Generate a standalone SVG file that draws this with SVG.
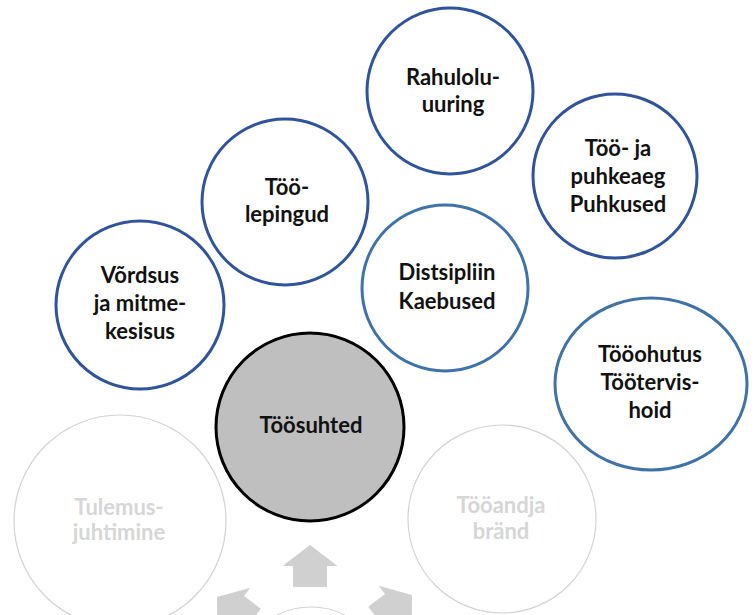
<svg xmlns="http://www.w3.org/2000/svg" width="755" height="615" viewBox="0 0 755 615">
  <style>
    .lbl { font-family: Lato, "Liberation Sans", sans-serif; font-weight: bold; font-size: 22px; text-anchor: middle; fill: #111111; }
    .faint-lbl { fill: #d6d6d6; }
    .blue { fill: #ffffff; stroke: #2f549c; stroke-width: 3; }
    .blue-light { fill: #ffffff; stroke: #3f72a8; stroke-width: 3; }
    .faint { fill: #ffffff; stroke: #d3d3d3; stroke-width: 1.2; }
    .arrow { fill: #d0d0d0; }
  </style>
  <defs>
    <!-- block arrow with its tip at the origin, pointing up -->
    <polygon id="blockArrow" points="0,0 27.5,21 17,21 17,42 -17,42 -17,21 -27.5,21"/>
  </defs>

  <rect width="755" height="615" fill="#ffffff"/>

  <!-- faded cycle in the background -->
  <g id="hub">
    <circle class="faint" cx="311" cy="680" r="73"/>
  </g>
  <g id="connectors">
    <use href="#blockArrow" class="arrow" transform="translate(310 545)"/>
    <use href="#blockArrow" class="arrow" transform="translate(217 597) rotate(-53)"/>
    <use href="#blockArrow" class="arrow" transform="translate(412 595) rotate(53)"/>
  </g>
  <g id="tulemusjuhtimine">
    <circle class="faint" cx="120" cy="521" r="106"/>
    <text class="lbl faint-lbl" x="119" y="515">Tulemus-</text>
    <text class="lbl faint-lbl" x="119" y="540">juhtimine</text>
  </g>
  <g id="tooandja-brand">
    <circle class="faint" cx="502" cy="519" r="94"/>
    <text class="lbl faint-lbl" x="501" y="513">Tööandja</text>
    <text class="lbl faint-lbl" x="501" y="539">bränd</text>
  </g>

  <!-- central node -->
  <g id="toosuhted">
    <circle cx="310" cy="427" r="94" fill="#bfbfbf" stroke="#000000" stroke-width="3"/>
    <text class="lbl" x="311" y="433">Töösuhted</text>
  </g>

  <!-- topic nodes -->
  <g id="vordsus">
    <circle class="blue" cx="140" cy="305" r="84"/>
    <text class="lbl" x="140" y="283">Võrdsus</text>
    <text class="lbl" x="140" y="311">ja mitme-</text>
    <text class="lbl" x="140" y="339">kesisus</text>
  </g>
  <g id="toolepingud">
    <circle class="blue" cx="285" cy="202" r="83"/>
    <text class="lbl" x="287" y="195">Töö-</text>
    <text class="lbl" x="287" y="222">lepingud</text>
  </g>
  <g id="rahuloluuuring">
    <circle class="blue" cx="450" cy="91" r="83"/>
    <text class="lbl" x="453" y="85">Rahulolu-</text>
    <text class="lbl" x="453" y="112">uuring</text>
  </g>
  <g id="too-ja-puhkeaeg">
    <circle class="blue" cx="615" cy="176" r="82"/>
    <text class="lbl" x="618" y="156">Töö- ja</text>
    <text class="lbl" x="618" y="184">puhkeaeg</text>
    <text class="lbl" x="618" y="212">Puhkused</text>
  </g>
  <g id="distsipliin">
    <circle class="blue-light" cx="445" cy="288" r="83"/>
    <text class="lbl" x="447" y="280">Distsipliin</text>
    <text class="lbl" x="447" y="309">Kaebused</text>
  </g>
  <g id="tooohutus">
    <ellipse class="blue-light" cx="651" cy="384" rx="96" ry="86"/>
    <text class="lbl" x="650" y="362">Tööohutus</text>
    <text class="lbl" x="650" y="390">Töötervis-</text>
    <text class="lbl" x="650" y="418">hoid</text>
  </g>
</svg>
